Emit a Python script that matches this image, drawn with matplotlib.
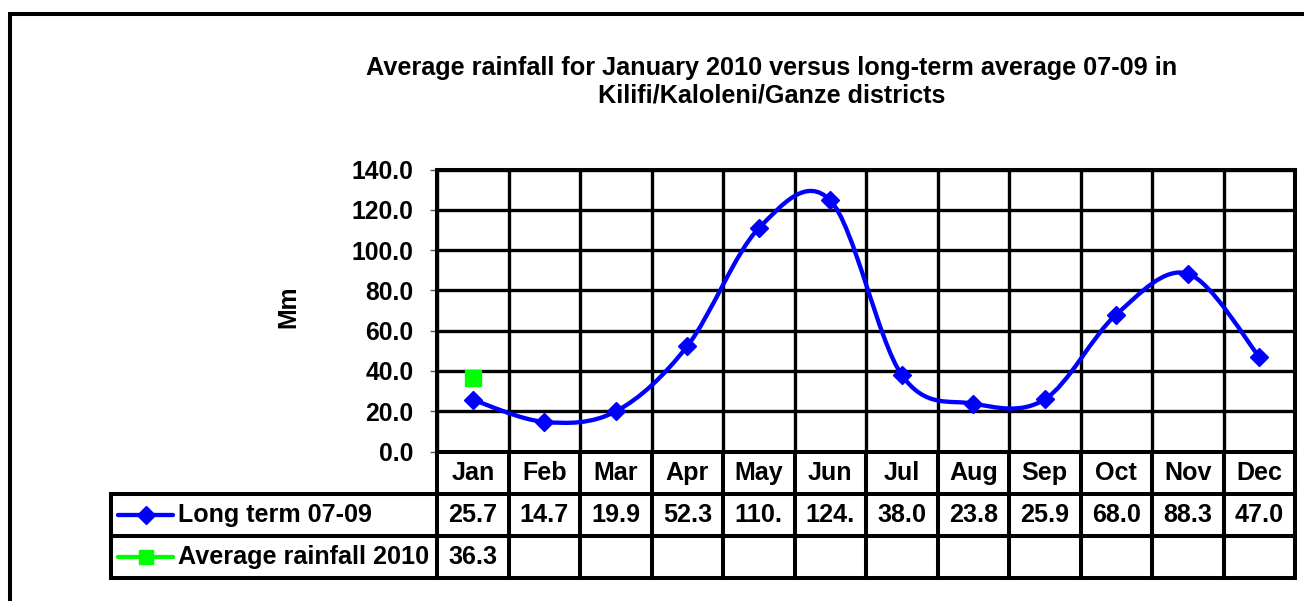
import numpy as np
import matplotlib
matplotlib.use("Agg")
import matplotlib.pyplot as plt
from matplotlib.path import Path
from matplotlib.patches import PathPatch, Rectangle
from matplotlib.ticker import FormatStrFormatter, FixedLocator
from matplotlib.transforms import blended_transform_factory

plt.rcParams['font.family'] = ['Liberation Sans', 'DejaVu Sans']
plt.rcParams['font.weight'] = 'bold'

# ---------------- data ----------------
months = ["Jan", "Feb", "Mar", "Apr", "May", "Jun",
          "Jul", "Aug", "Sep", "Oct", "Nov", "Dec"]
long_term = [25.7, 14.7, 19.9, 52.3, 110.8, 124.7, 38.0, 23.8, 25.9, 68.0, 88.3, 47.0]
rain_2010 = [36.3]            # only January reported
series_names = ["Long term 07-09", "Average rainfall 2010"]
title = ("Average rainfall for January 2010 versus long-term average 07-09 in\n"
         "Kilifi/Kaloleni/Ganze districts")
y_ticks = [0, 20, 40, 60, 80, 100, 120, 140]
y_label = "Mm"

BLUE = "#0000FF"
GREEN = "#00FF00"
FS = 17.8
FS_TAB = 18.1

# ---------------- figure ----------------
W, H = 1304, 601
fig = plt.figure(figsize=(W / 100, H / 100), dpi=100)


def px_rect(l, t, r, b):
    return [l / W, 1 - b / H, (r - l) / W, (b - t) / H]


L, T, R, B = 437, 169.5, 1295, 451.5
ax = fig.add_axes(px_rect(L, T, R, B))
n = len(months)
ax.set_xlim(-0.5, n - 0.5)
ax.set_ylim(y_ticks[0], y_ticks[-1])

# grid: horizontal at ticks, vertical between categories
ax.yaxis.set_major_locator(FixedLocator(y_ticks))
ax.yaxis.set_major_formatter(FormatStrFormatter('%.1f'))
ax.xaxis.set_major_locator(FixedLocator(np.arange(-0.5, n, 1.0)))
ax.grid(True, color='black', linewidth=2.4)
ax.set_axisbelow(True)
ax.tick_params(axis='x', length=0, labelbottom=False)
ax.tick_params(axis='y', length=5, width=1, color='#555555', direction='out',
               pad=12, labelsize=FS)
for lab in ax.get_yticklabels():
    lab.set_fontweight('bold')
for sp in ax.spines.values():
    sp.set_linewidth(2.9)
    sp.set_color('black')
    sp.set_zorder(3)

ax.set_ylabel(y_label, fontsize=FS, fontweight='bold', va='center')
ax.yaxis.set_label_coords((288 - L) / (R - L), (B - 307) / (B - T))

# smoothed line (Bezier through the data points, Excel-style smoothing)
xs = np.arange(n, dtype=float)
pts = np.column_stack([xs, np.array(long_term, dtype=float)])
verts = [pts[0]]
codes = [Path.MOVETO]
for i in range(n - 1):
    p0 = pts[i - 1] if i > 0 else pts[i]
    p1 = pts[i]
    p2 = pts[i + 1]
    p3 = pts[i + 2] if i + 2 < n else pts[i + 1]
    c1 = p1 + (p2 - p0) / 6.0
    c2 = p2 - (p3 - p1) / 6.0
    verts += [c1, c2, p2]
    codes += [Path.CURVE4] * 3
ax.add_patch(PathPatch(Path(verts, codes), facecolor='none', edgecolor=BLUE,
                       linewidth=3.1, zorder=4, capstyle='round'))
ax.plot(xs, long_term, linestyle='none', marker='D', markersize=9,
        color=BLUE, markeredgecolor=BLUE, zorder=5, clip_on=False)
ax.plot(np.arange(len(rain_2010)), rain_2010, linestyle='none', marker='s',
        markersize=12, color=GREEN, markeredgecolor=GREEN, zorder=5)

# ---------------- data table ----------------
TL = 111
TB = 578
tab = fig.add_axes(px_rect(TL, B, R, TB))
col_w = (R - L) / n
x_left = -0.5 - (L - TL) / col_w
tab.set_xlim(x_left, n - 0.5)
tab.set_ylim(3, 0)
tab.axis('off')
LW = 2.9
for xb in np.arange(-0.5, n, 1.0):
    tab.plot([xb, xb], [0, 3], color='black', lw=LW, clip_on=False,
             solid_capstyle='projecting')
tab.plot([x_left, x_left], [1, 3], color='black', lw=LW, clip_on=False,
         solid_capstyle='projecting')
for yb in [1, 2, 3]:
    tab.plot([x_left, n - 0.5], [yb, yb], color='black', lw=LW, clip_on=False,
             solid_capstyle='projecting')

for i, m in enumerate(months):
    tab.text(i, 0.5, m, ha='center', va='center', fontsize=FS_TAB, fontweight='bold')
for i, v in enumerate(long_term):
    tab.text(i, 1.5, f"{v:.1f}"[:4], ha='center', va='center', fontsize=FS_TAB,
             fontweight='bold')
for i, v in enumerate(rain_2010):
    tab.text(i, 2.5, f"{v:.1f}"[:4], ha='center', va='center', fontsize=FS_TAB,
             fontweight='bold')

# legend keys inside the table
tw = R - TL
lx0, lx1 = (118 - TL) / tw, (173 - TL) / tw
tx = (178 - TL) / tw
btr = blended_transform_factory(tab.transAxes, tab.transData)
for row, (name, col, mk, ms) in enumerate(
        [(series_names[0], BLUE, 'D', 9), (series_names[1], GREEN, 's', 9.5)]):
    yy = row + 1.5
    tab.plot([lx0, lx1], [yy, yy], color=col, lw=3.1, solid_capstyle='round',
             transform=btr, clip_on=False)
    tab.plot([(lx0 + lx1) / 2], [yy], marker=mk, markersize=ms, color=col,
             linestyle='none', transform=btr, clip_on=False)
    tab.text(tx, yy, name, ha='left', va='center', fontsize=FS_TAB,
             fontweight='bold', transform=btr)

# ---------------- title & outer border ----------------
fig.text(771.5 / W, 1 - 82 / H, title, ha='center', va='center',
         multialignment='center', fontsize=18.2, fontweight='bold')

fig.add_artist(Rectangle((10 / W, -0.5), 2.0, (1 - 14 / H) + 0.5,
                         transform=fig.transFigure, fill=False,
                         edgecolor='black', linewidth=2.9))

fig.savefig("out.png", dpi=100, facecolor='white')
